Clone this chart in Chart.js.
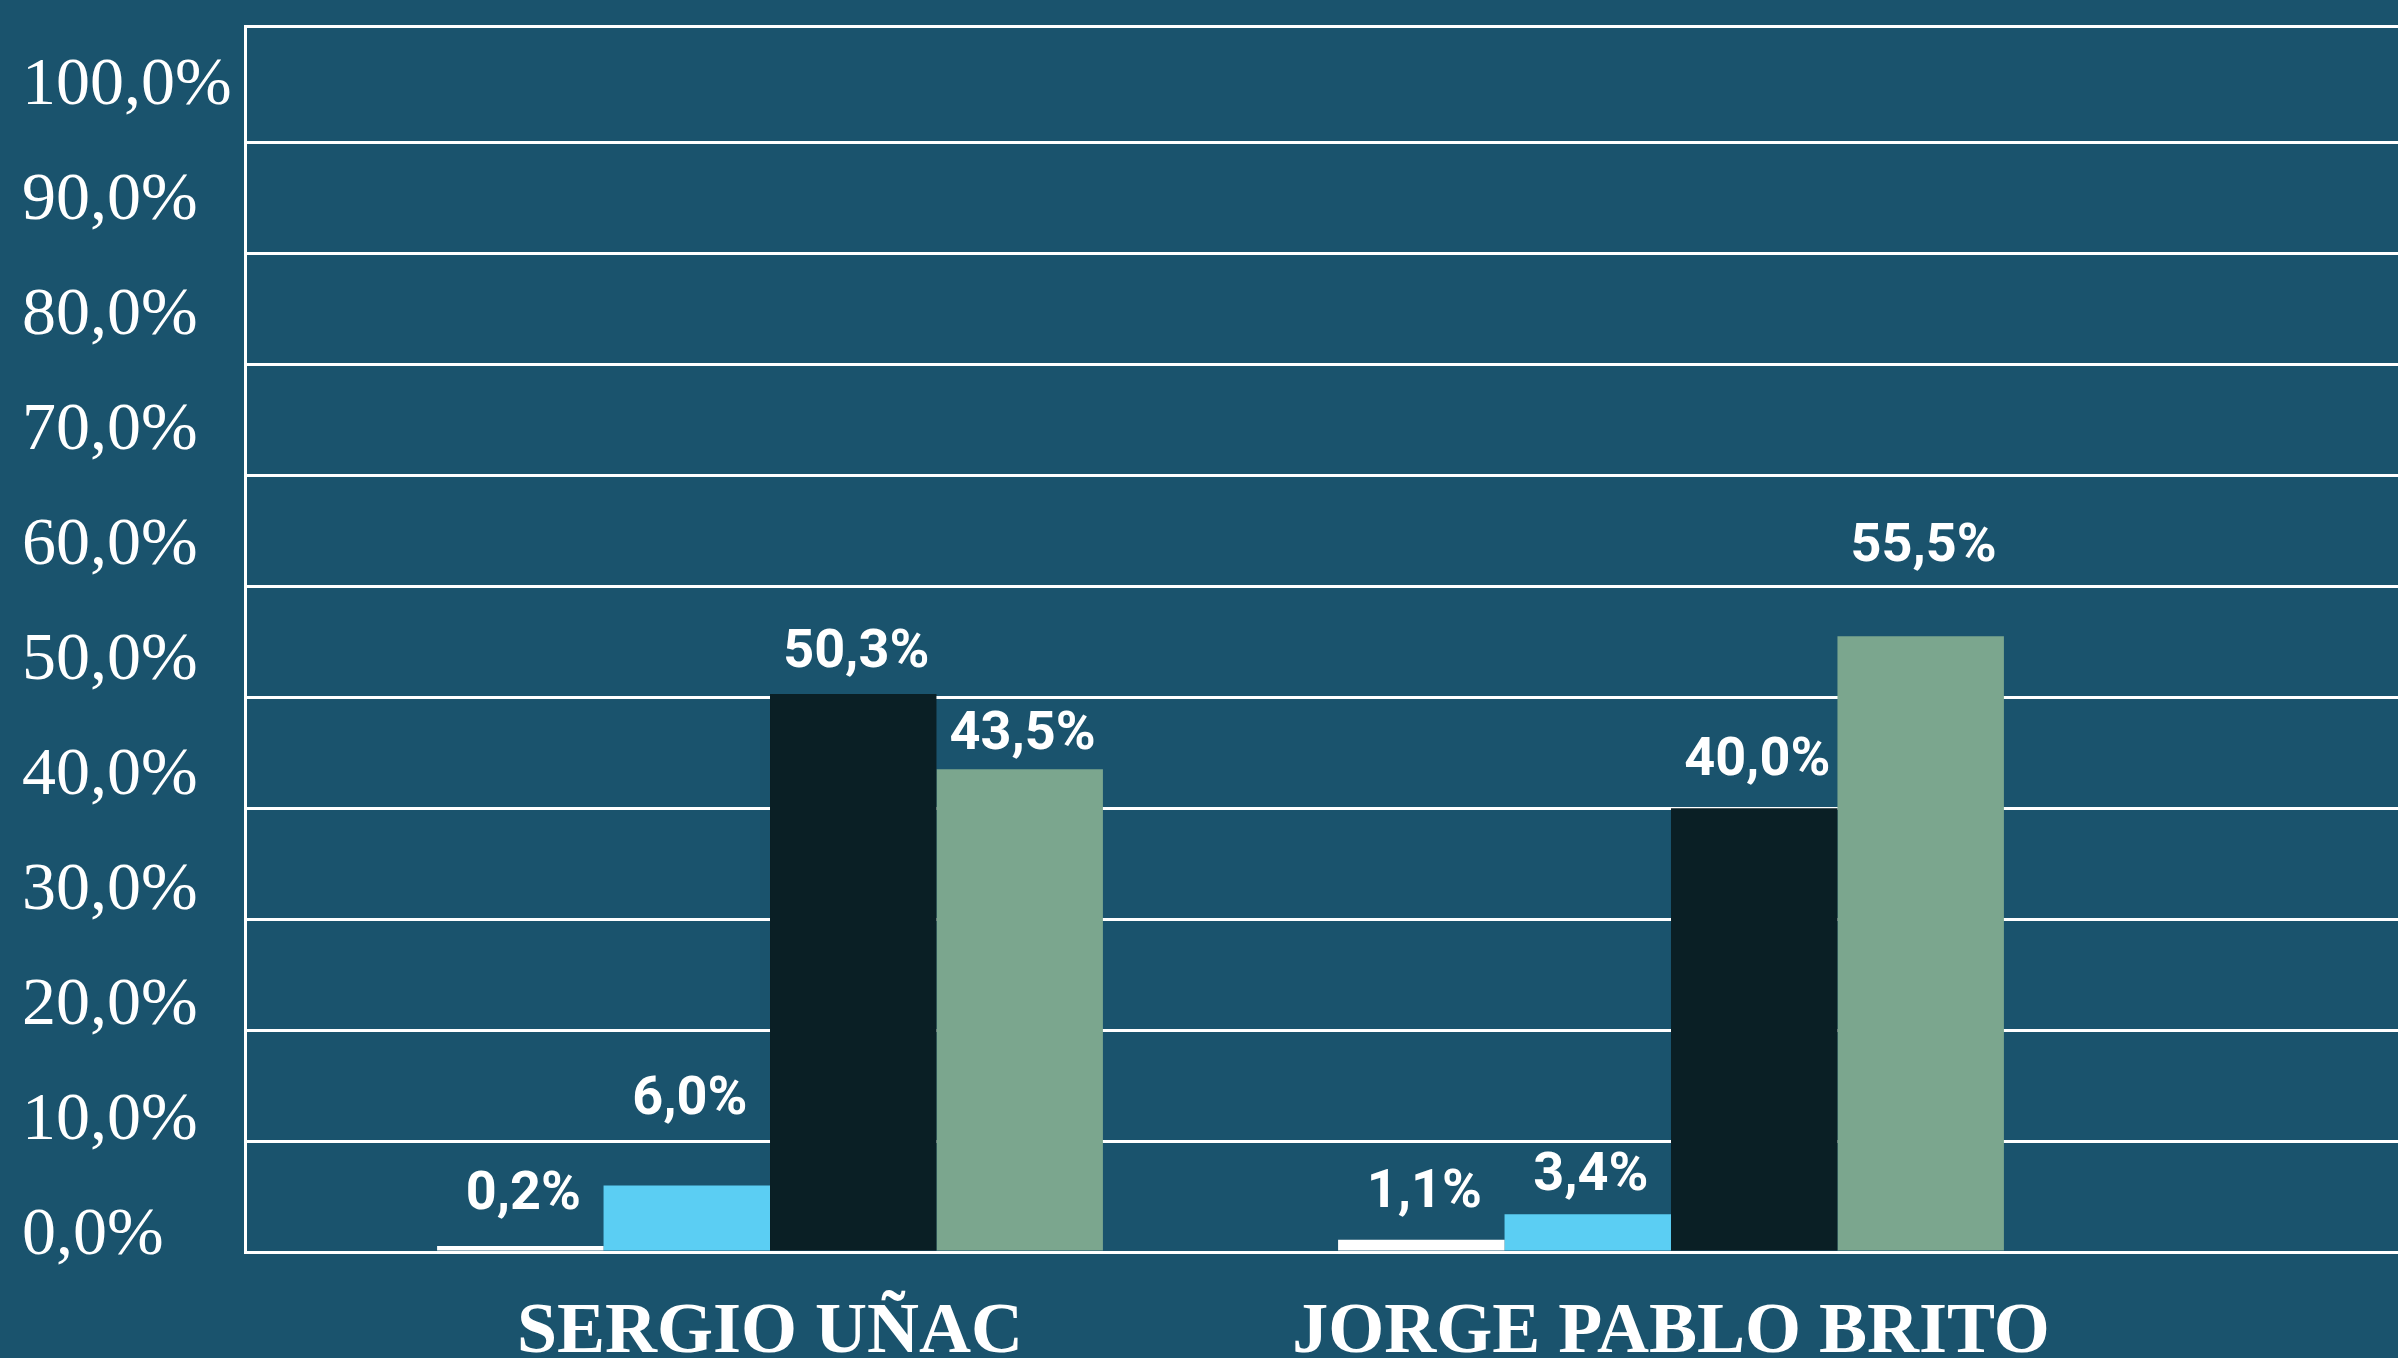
<!DOCTYPE html>
<html>
<head>
<meta charset="utf-8">
<script src="https://cdn.jsdelivr.net/npm/chart.js@4.4.1/dist/chart.umd.min.js"></script>
<style>
  html, body { margin: 0; padding: 0; background: #1a536d; overflow: hidden; }
  canvas { display: block; }
</style>
</head>
<body>
<canvas id="c" width="2398" height="1358"></canvas>
<script>
// ---- data ----
const categories = ['SERGIO UÑAC', 'JORGE PABLO BRITO'];
const seriesWhite = [0.2, 1.1];
const seriesBlue = [6.0, 3.4];
const seriesBlack = [50.3, 40.0];
const seriesGreen = [43.5, 55.5];
const yTickValues = [0, 10, 20, 30, 40, 50, 60, 70, 80, 90, 100];
const yTickLabels = ['0,0%', '10,0%', '20,0%', '30,0%', '40,0%', '50,0%', '60,0%', '70,0%', '80,0%', '90,0%', '100,0%'];

// ---- style ----
const colors = ['#ffffff', '#5bcef3', '#0a1f25', '#7ba68e'];
// how far above each bar top its value label sits (px), per series
const labelLift = [[51, 46], [85, 38], [40, 47], [34, 89]];

const seriesList = [seriesWhite, seriesBlue, seriesBlack, seriesGreen];
const datasets = seriesList.map((s, d) => ({
  data: s.map((v, i) => ({ x: i + 1, y: v })),
  backgroundColor: colors[d],
  borderWidth: 0,
  minBarLength: 6,
  categoryPercentage: 0.739,
  barPercentage: 1.0,
  xAxisID: 'x',
  yAxisID: 'y'
}));

const valueLabels = {
  id: 'valueLabels',
  afterDatasetsDraw(chart) {
    const ctx = chart.ctx;
    ctx.save();
    ctx.fillStyle = '#ffffff';
    ctx.font = 'bold 54px Roboto, "Liberation Sans", sans-serif';
    ctx.textAlign = 'center';
    ctx.textBaseline = 'middle';
    chart.data.datasets.forEach((ds, d) => {
      const meta = chart.getDatasetMeta(d);
      meta.data.forEach((bar, i) => {
        const v = seriesList[d][i];
        const txt = v.toFixed(1).replace('.', ',') + '%';
        ctx.fillText(txt, bar.x + 3, bar.y - labelLift[d][i]);
      });
    });
    ctx.restore();
  }
};

new Chart(document.getElementById('c'), {
  type: 'bar',
  data: { datasets },
  plugins: [valueLabels],
  options: {
    responsive: false,
    devicePixelRatio: 1,
    animation: false,
    layout: { padding: { top: 26, left: 22, right: 0, bottom: 0 } },
    plugins: { legend: { display: false }, tooltip: { enabled: false } },
    scales: {
      x: {
        type: 'linear',
        position: 'bottom',
        min: 0.4173,
        max: 2.8069,
        offset: false,
        grid: { display: false, offset: false },
        border: { display: false },
        afterBuildTicks: (scale) => { scale.ticks = categories.map((c, i) => ({ value: i + 1 })); },
        afterFit: (scale) => { scale.height = 106; },
        ticks: {
          autoSkip: false,
          maxRotation: 0,
          minRotation: 0,
          padding: 30,
          color: '#ffffff',
          font: { family: '"Liberation Serif", "Times New Roman", serif', weight: 'bold', size: 72 },
          callback: (value) => categories[Math.round(value) - 1] || ''
        }
      },
      y: {
        type: 'linear',
        position: 'left',
        weight: 0,
        min: 0,
        max: 110.5,
        afterBuildTicks: (scale) => { scale.ticks = yTickValues.concat([110.5]).map(v => ({ value: v })); },
        afterFit: (scale) => { scale.width = 0; },
        grid: { color: '#ffffff', lineWidth: 3, drawTicks: false },
        border: { display: true, color: '#ffffff', width: 3 },
        ticks: { display: false }
      },
      yL: {
        type: 'linear',
        position: 'left',
        weight: 10,
        min: -1.39,
        max: 105.2,
        afterBuildTicks: (scale) => { scale.ticks = yTickValues.map(v => ({ value: v })); },
        afterFit: (scale) => { scale.width = 223; },
        grid: { display: false, drawTicks: false },
        border: { display: false },
        ticks: {
          crossAlign: 'far',
          padding: 0,
          color: '#ffffff',
          font: { family: '"Liberation Serif", "Times New Roman", serif', size: 68, lineHeight: 0.5 },
          callback: (value, index) => yTickLabels[index]
        }
      }
    }
  }
});
</script>
</body>
</html>
